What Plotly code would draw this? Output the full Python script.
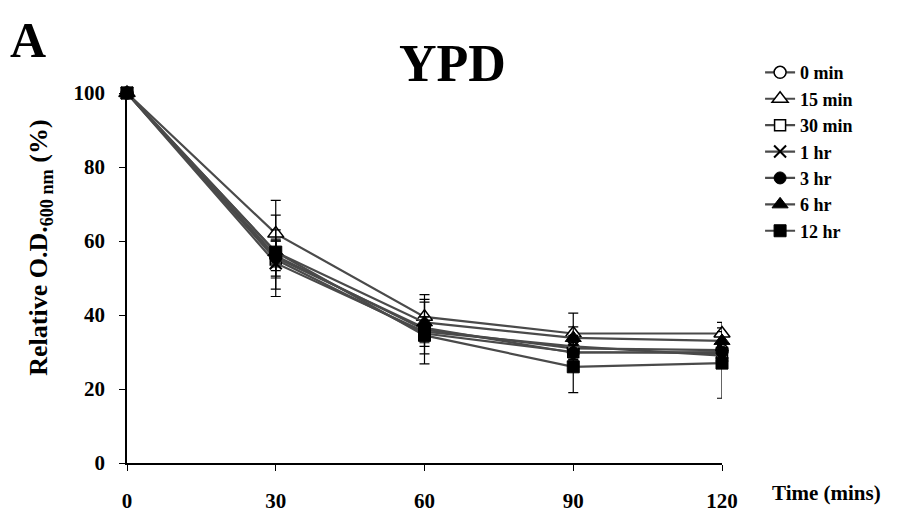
import plotly.graph_objects as go

# Sampling times (minutes)
time_min = [0, 30, 60, 90, 120]

# Pre-treatment durations (legend order)
series_names = ["0 min", "15 min", "30 min", "1 hr", "3 hr", "6 hr", "12 hr"]

# Relative O.D. 600 nm (%) for each series
od_0min = [100, 56.0, 36.0, 31.0, 30.5]
od_15min = [100, 62.0, 39.5, 35.0, 35.0]
od_30min = [100, 55.0, 35.0, 30.0, 29.7]
od_1hr = [100, 54.0, 35.5, 31.5, 29.0]
od_3hr = [100, 55.5, 36.5, 29.8, 30.0]
od_6hr = [100, 57.0, 38.0, 33.8, 33.0]
od_12hr = [100, 57.0, 34.5, 26.0, 27.0]

# Standard deviations
sd_0min = [0, 4.0, 3.0, 2.5, 2.0]
sd_15min = [0, 9.0, 6.0, 5.5, 3.0]
sd_30min = [0, 5.0, 3.5, 2.0, 2.0]
sd_1hr = [0, 9.0, 8.7, 3.0, 2.5]
sd_3hr = [0, 5.0, 3.0, 2.0, 2.0]
sd_6hr = [0, 10.0, 5.5, 3.0, 2.5]
sd_12hr = [0, 3.0, 5.0, 7.0, 9.5]

values = [od_0min, od_15min, od_30min, od_1hr, od_3hr, od_6hr, od_12hr]
errors = [sd_0min, sd_15min, sd_30min, sd_1hr, sd_3hr, sd_6hr, sd_12hr]

# Marker styles: open symbols use a white fill with a black outline
marker_styles = [
    dict(symbol="circle", color="white", size=12, line=dict(color="black", width=1.5)),
    dict(symbol="triangle-up", color="white", size=14, line=dict(color="black", width=1.5)),
    dict(symbol="square", color="white", size=11, line=dict(color="black", width=1.5)),
    dict(symbol="x-thin-open", color="black", size=12, line=dict(color="black", width=2)),
    dict(symbol="circle", color="black", size=12, line=dict(color="black", width=1)),
    dict(symbol="triangle-up", color="black", size=14, line=dict(color="black", width=1)),
    dict(symbol="square", color="black", size=12, line=dict(color="black", width=1)),
]

SERIF = "Liberation Serif, Times New Roman, serif"

fig = go.Figure()
for name, y, err, mk in zip(series_names, values, errors, marker_styles):
    fig.add_trace(go.Scatter(
        x=time_min, y=y, name=f"<b>{name}</b>", mode="lines+markers",
        line=dict(color="#4a4a4a", width=2.2),
        marker=mk,
        error_y=dict(type="data", array=err, visible=True,
                     color="black", thickness=1.2, width=5),
        cliponaxis=False,
    ))

fig.update_layout(
    width=908, height=517,
    margin=dict(l=127, r=186, t=93, b=54, autoexpand=False),
    paper_bgcolor="white", plot_bgcolor="white",
    showlegend=True,
    legend=dict(
        x=1.064, y=1.105, xanchor="left", yanchor="top",
        font=dict(family=SERIF, size=18, color="black"),
        bgcolor="rgba(0,0,0,0)", itemwidth=30, tracegroupgap=0,
    ),
    font=dict(family=SERIF, color="black"),
)

tick_x = [0, 30, 60, 90, 120]
tick_y = [0, 20, 40, 60, 80, 100]

fig.update_xaxes(
    range=[0, 120], tickvals=tick_x, automargin=False,
    ticktext=[f"<b>{v}</b>" for v in tick_x],
    showline=True, linecolor="black", linewidth=2,
    ticks="outside", ticklen=6, tickcolor="black", tickwidth=1,
    ticklabelstandoff=12,
    tickfont=dict(family=SERIF, size=21, color="black"),
    showgrid=False, zeroline=False,
)
fig.update_yaxes(
    range=[0, 100], tickvals=tick_y, automargin=False,
    ticktext=[f"<b>{v}</b>" for v in tick_y],
    showline=True, linecolor="black", linewidth=1.5,
    ticks="outside", ticklen=6, tickcolor="black", tickwidth=1,
    ticklabelstandoff=10,
    tickfont=dict(family=SERIF, size=21, color="black"),
    showgrid=False, zeroline=False,
)

# Panel letter, title and axis titles
fig.add_annotation(text="<b>A</b>", xref="paper", yref="paper",
                   x=-0.2, y=1.143, xanchor="left", yanchor="middle",
                   showarrow=False, font=dict(family=SERIF, size=50, color="black"))
fig.add_annotation(text="<b>YPD</b>", xref="paper", yref="paper",
                   x=0.547, y=1.08, xanchor="center", yanchor="middle",
                   showarrow=False, font=dict(family=SERIF, size=52, color="black"))
fig.add_annotation(text="<b>Relative O.D.<sub>600 nm</sub> (%)</b>", xref="paper", yref="paper",
                   x=-0.146, y=0.582, xanchor="center", yanchor="middle", textangle=-90,
                   showarrow=False, font=dict(family=SERIF, size=26, color="black"))
fig.add_annotation(text="<b>Time (mins)</b>", xref="paper", yref="paper",
                   x=1.0807, y=-0.081, xanchor="left", yanchor="middle",
                   showarrow=False, font=dict(family=SERIF, size=21, color="black"))

fig.write_html("out.html")
